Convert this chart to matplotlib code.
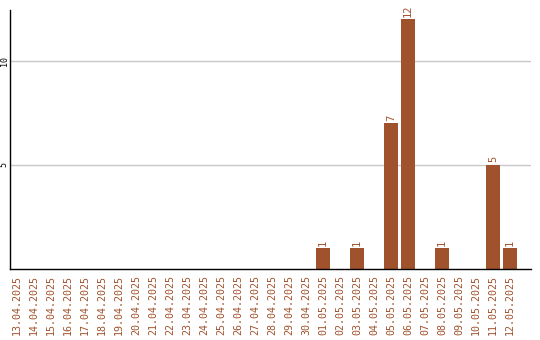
import matplotlib
matplotlib.use("Agg")
import matplotlib.pyplot as plt
import numpy as np

dates = ["13.04.2025","14.04.2025","15.04.2025","16.04.2025","17.04.2025","18.04.2025",
         "19.04.2025","20.04.2025","21.04.2025","22.04.2025","23.04.2025","24.04.2025",
         "25.04.2025","26.04.2025","27.04.2025","28.04.2025","29.04.2025","30.04.2025",
         "01.05.2025","02.05.2025","03.05.2025","04.05.2025","05.05.2025","06.05.2025",
         "07.05.2025","08.05.2025","09.05.2025","10.05.2025","11.05.2025","12.05.2025"]
values = [0]*18 + [1, 0, 1, 0, 7, 12, 0, 1, 0, 0, 5, 1]
yticks = [5, 10]

brown = "#A0522D"
fig = plt.figure(figsize=(5.4, 3.4), dpi=100)
ax = fig.add_axes([10/540, 71/340, 521/540, 259/340])
x = np.arange(len(dates))
bars = ax.bar(x, values, width=0.82, color=brown, zorder=3)
for xi, v in zip(x, values):
    if v > 0:
        ax.text(xi, v + 0.12, str(v), rotation=90, ha="center", va="bottom",
                color=brown, fontsize=7.5, family="DejaVu Sans Mono")
ax.set_xlim(-0.41, 30.24)
ax.set_ylim(0, 12.45)
ax.set_yticks(yticks)
ax.set_yticklabels([str(t) for t in yticks], rotation=90, va="center",
                   fontsize=6, family="DejaVu Sans Mono", color="black")
ax.set_xticks(x)
ax.set_xticklabels(dates, rotation=90, fontsize=7.2, family="DejaVu Sans Mono",
                   color=brown)
ax.tick_params(axis="both", length=0)
ax.tick_params(axis="y", pad=1)
ax.tick_params(axis="x", pad=4)
ax.grid(axis="y", color="#c8c8c8", linewidth=1, zorder=0)
for s in ["top", "right"]:
    ax.spines[s].set_visible(False)
for s in ["left", "bottom"]:
    ax.spines[s].set_color("black")
    ax.spines[s].set_linewidth(1)
ax.spines["bottom"].set_zorder(4)
fig.savefig("out.png", dpi=100)
